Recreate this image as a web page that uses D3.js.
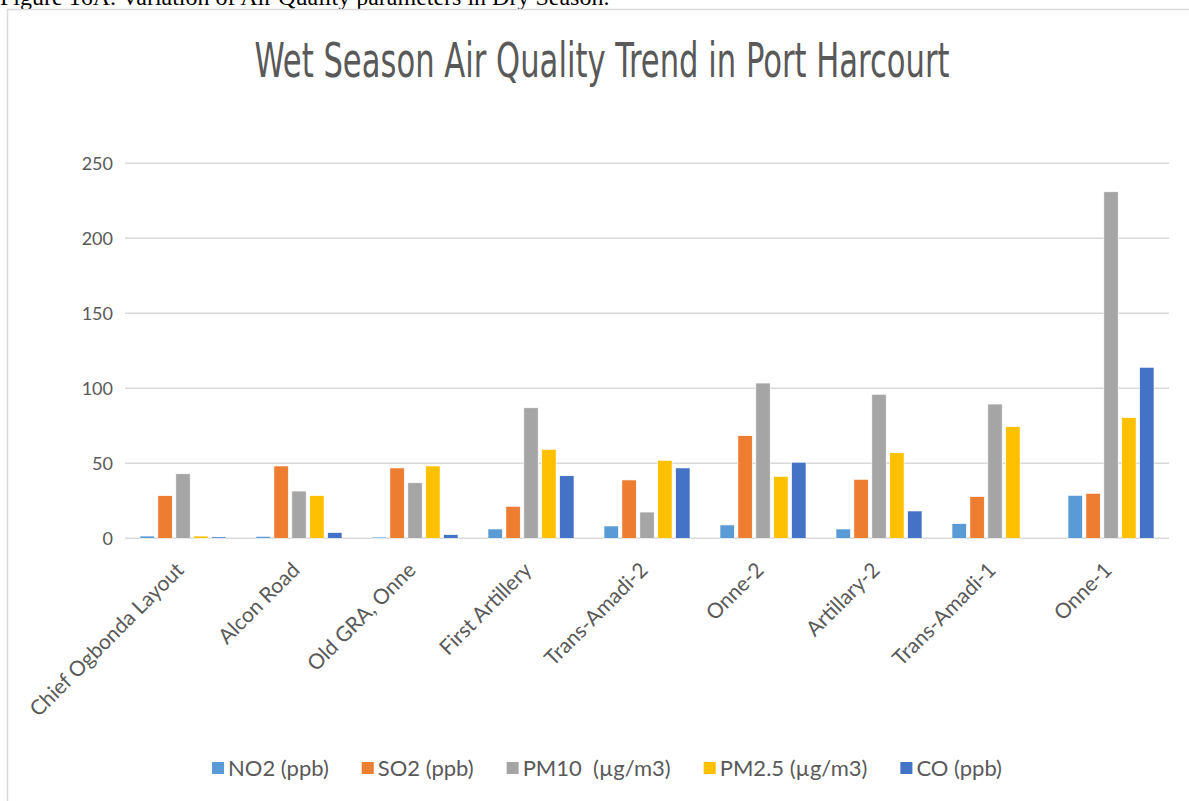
<!DOCTYPE html>
<html>
<head>
<meta charset="utf-8">
<title>Wet Season Air Quality Trend in Port Harcourt</title>
<script src="https://d3js.org/d3.v7.min.js"></script>
<style>
  body { margin: 0; background: #fff; overflow: hidden; }
  .axis text, .xlab, .legend text { font-family: Lato, "Open Sans", sans-serif; fill: #595959; }
  .legend text { white-space: pre; }
</style>
</head>
<body>
<script>

// chart values
var categories = ["Chief Ogbonda Layout", "Alcon Road", "Old GRA, Onne", "First Artillery",
                  "Trans-Amadi-2", "Onne-2", "Artillary-2", "Trans-Amadi-1", "Onne-1"];
var seriesNames = ["NO2 (ppb)", "SO2 (ppb)", "PM10  (\u00b5g/m3)", "PM2.5 (\u00b5g/m3)", "CO (ppb)"];
var no2  = [1.5, 1.3, 0.8, 6.2, 8.2, 8.9, 6.2, 9.8, 28.6];
var so2  = [28.4, 48.2, 46.9, 21.3, 38.9, 68.4, 39.3, 27.8, 30];
var pm10 = [43, 31.5, 37, 87, 17.5, 103.5, 96, 89.5, 231];
var pm25 = [1.5, 28.4, 48.2, 59.3, 52, 41.3, 57, 74.4, 80.4];
var co   = [0.9, 3.8, 2.4, 41.7, 46.9, 50.7, 18.2, 0, 114];
var yTicks = [0, 50, 100, 150, 200, 250];
var colors = ["#5b9bd5", "#ed7d31", "#a5a5a5", "#ffc000", "#4472c4"];

var values = [no2, so2, pm10, pm25, co];

var W = 1189, H = 801;
var svg = d3.select("body").append("svg")
    .attr("width", W)
    .attr("height", H);

// caption of the document above the chart (cut off at the top)
svg.append("text")
    .attr("x", 0)
    .attr("y", 5)
    .style("font-family", "'Liberation Serif', 'Times New Roman', serif")
    .style("font-size", "24px")
    .style("fill", "#000")
    .text("Figure 16A. Variation of Air Quality parameters in Dry Season.");

// chart frame
svg.append("rect")
    .attr("x", 7.5).attr("y", 9.5)
    .attr("width", 1300).attr("height", 900)
    .attr("fill", "#fff")
    .attr("stroke", "#d9d9d9")
    .attr("stroke-width", 1.5);

// title
svg.append("text")
    .attr("x", 602)
    .attr("y", 77)
    .attr("text-anchor", "middle")
    .attr("textLength", 695)
    .attr("lengthAdjust", "spacingAndGlyphs")
    .style("font-family", "'Liberation Sans Narrow', 'DejaVu Sans Condensed', sans-serif")
    .style("font-size", "48px")
    .style("fill", "#595959")
    .text("Wet Season Air Quality Trend in Port Harcourt");

var plot = {left: 125, right: 1169, top: 163.3, bottom: 538.3};

var x0 = d3.scaleBand()
    .domain(categories)
    .range([plot.left, plot.right])
    .padding(0);

var x1 = d3.scaleBand()
    .domain(d3.range(seriesNames.length))
    .range([15, x0.bandwidth() - 15])
    .paddingInner(0.2);

var y = d3.scaleLinear()
    .domain([0, 250])
    .range([plot.bottom, plot.top]);

// gridlines
svg.append("g")
    .selectAll("line")
    .data(yTicks)
    .join("line")
      .attr("x1", plot.left)
      .attr("x2", plot.right)
      .attr("y1", function(d) { return y(d); })
      .attr("y2", function(d) { return y(d); })
      .attr("stroke", "#d9d9d9")
      .attr("stroke-width", 1.4);

// y axis labels
var yAxis = svg.append("g")
    .attr("class", "axis")
    .attr("transform", "translate(" + (plot.left - 12) + ",0)")
    .call(d3.axisLeft(y).tickValues(yTicks).tickSize(0).tickPadding(0));
yAxis.select(".domain").remove();
yAxis.selectAll("text").style("font-size", "18px");

// bars
var groups = svg.append("g")
    .selectAll("g")
    .data(categories)
    .join("g")
      .attr("transform", function(d) { return "translate(" + x0(d) + ",0)"; });

groups.selectAll("rect")
    .data(function(d, i) { return values.map(function(s, j) { return {s: j, v: s[i]}; }); })
    .join("rect")
      .attr("x", function(d) { return x1(d.s); })
      .attr("width", x1.bandwidth())
      .attr("y", function(d) { return y(d.v); })
      .attr("height", function(d) { return y(0) - y(d.v); })
      .attr("fill", function(d) { return colors[d.s]; })
      .attr("stroke", "#fff")
      .attr("stroke-width", 0.6);

// category labels, rotated
svg.append("g")
    .selectAll("text")
    .data(categories)
    .join("text")
      .attr("class", "xlab")
      .attr("text-anchor", "end")
      .attr("transform", function(d) {
        return "translate(" + (x0(d) + x0.bandwidth() / 2 + 2) + "," + (plot.bottom + 33) + ") rotate(-45)";
      })
      .style("font-size", "21px")
      .text(function(d) { return d; });

// legend
var legend = svg.append("g").attr("class", "legend");
var items = legend.selectAll("g")
    .data(seriesNames)
    .join("g");
items.append("rect")
    .attr("width", 12).attr("height", 12)
    .attr("y", -6)
    .attr("fill", function(d, i) { return colors[i]; });
items.append("text")
    .attr("x", 16)
    .attr("y", 0)
    .attr("dy", "0.35em")
    .style("font-size", "22px")
    .text(function(d) { return d; });

var offs = 0, gap = 33;
items.each(function() {
  var w = d3.select(this).select("text").node().getComputedTextLength() + 16;
  d3.select(this).attr("data-x", offs);
  offs += w + gap;
});
var total = offs - gap;
var startX = 607 - total / 2;
items.attr("transform", function() {
  return "translate(" + (startX + (+d3.select(this).attr("data-x"))) + ",768)";
});

</script>
</body>
</html>
